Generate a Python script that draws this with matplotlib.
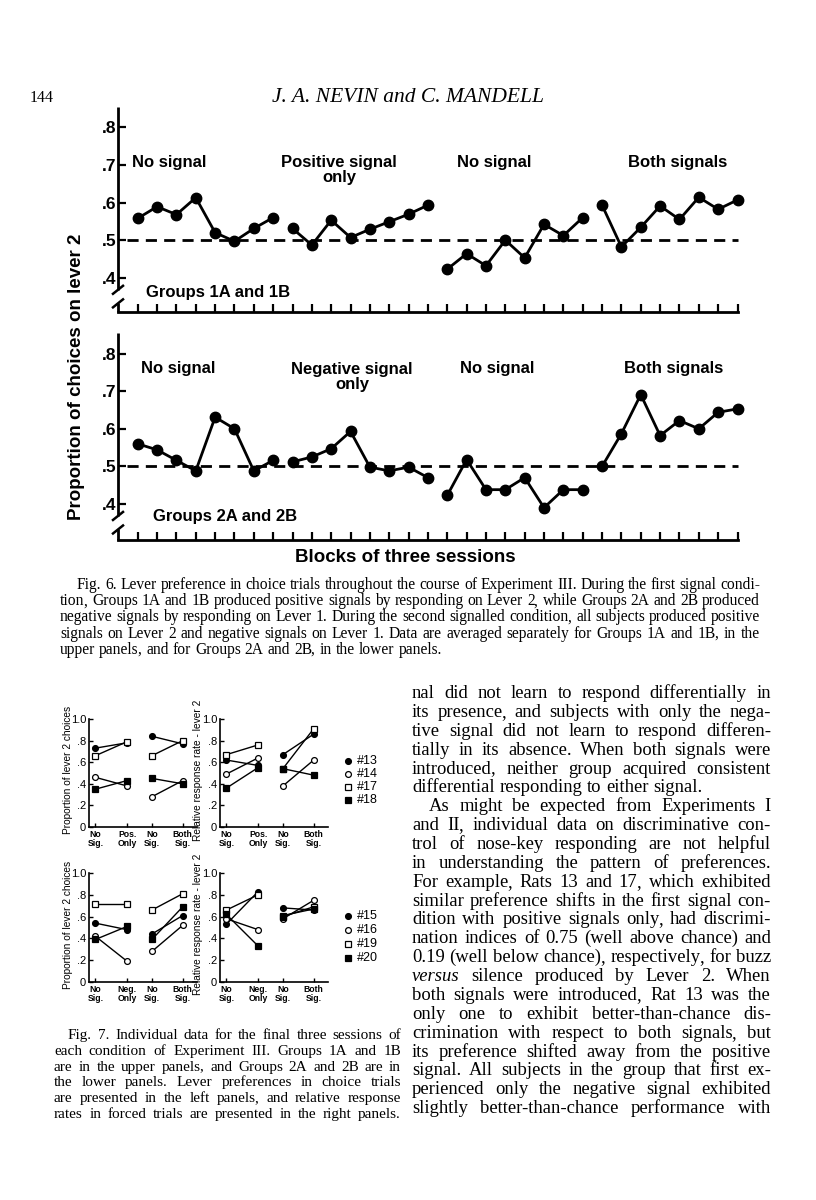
import matplotlib
matplotlib.use('Agg')
import matplotlib.pyplot as plt
import numpy as np
from matplotlib.font_manager import FontProperties

W, H = 816, 1200

# ---- Fig. 6: proportion of choices on lever 2, blocks of three sessions ----
g1_nosig_a = [.558, .589, .568, .613, .520, .497, .531, .560]
g1_pos     = [.531, .487, .553, .507, .529, .549, .569, .593]
g1_nosig_b = [.423, .464, .432, .500, .453, .542, .512, .560]
g1_both    = [.593, .482, .534, .591, .555, .614, .582, .607]

g2_nosig_a = [.560, .544, .516, .488, .631, .600, .488, .516]
g2_neg     = [.512, .525, .547, .593, .498, .488, .498, .470]
g2_nosig_b = [.423, .518, .438, .438, .470, .390, .438, .438]
g2_both    = [.500, .587, .691, .582, .622, .600, .644, .653]

g1_conditions = ['No signal', 'Positive signal\nonly', 'No signal', 'Both signals']
g2_conditions = ['No signal', 'Negative signal\nonly', 'No signal', 'Both signals']

# ---- Fig. 7: individual rats, final three sessions of each condition ----
up_ticks = ['No\nSig.', 'Pos.\nOnly', 'No\nSig.', 'Both\nSig.']
low_ticks = ['No\nSig.', 'Neg.\nOnly', 'No\nSig.', 'Both\nSig.']
up_rats = ['#13', '#14', '#17', '#18']
low_rats = ['#15', '#16', '#19', '#20']

up_choice = [[.73, .78, .84, .77],
             [.46, .38, .28, .43],
             [.66, .79, .66, .80],
             [.35, .43, .45, .40]]
up_rate = [[.62, .57, .67, .86],
           [.49, .64, .38, .62],
           [.67, .76, .54, .91],
           [.36, .55, .54, .48]]
low_choice = [[.54, .48, .44, .61],
              [.42, .19, .28, .52],
              [.72, .72, .66, .81],
              [.39, .51, .39, .69]]
low_rate = [[.53, .83, .68, .66],
            [.58, .48, .58, .75],
            [.66, .80, .60, .69],
            [.62, .33, .61, .67]]

cond_pos = [0, 1, 1.78, 2.75]   # spacing of the four conditions on the axis
rat_styles = [dict(marker='o', mfc='k'), dict(marker='o', mfc='w'),
              dict(marker='s', mfc='w'), dict(marker='s', mfc='k')]

# ---- page text ----
cap6 = ["Fig. 6. Lever preference in choice trials throughout the course of Experiment III. During the first signal condi-",
        "tion, Groups 1A and 1B produced positive signals by responding on Lever 2, while Groups 2A and 2B produced",
        "negative signals by responding on Lever 1. During the second signalled condition, all subjects produced positive",
        "signals on Lever 2 and negative signals on Lever 1. Data are averaged separately for Groups 1A and 1B, in the",
        "upper panels, and for Groups 2A and 2B, in the lower panels."]
cap7 = ["Fig. 7. Individual data for the final three sessions of",
        "each condition of Experiment III. Groups 1A and 1B",
        "are in the upper panels, and Groups 2A and 2B are in",
        "the lower panels. Lever preferences in choice trials",
        "are presented in the left panels, and relative response",
        "rates in forced trials are presented in the right panels."]
body = ["nal did not learn to respond differentially in",
        "its presence, and subjects with only the nega-",
        "tive signal did not learn to respond differen-",
        "tially in its absence. When both signals were",
        "introduced, neither group acquired consistent",
        "differential responding to either signal.",
        "As might be expected from Experiments I",
        "and II, individual data on discriminative con-",
        "trol of nose-key responding are not helpful",
        "in understanding the pattern of preferences.",
        "For example, Rats 13 and 17, which exhibited",
        "similar preference shifts in the first signal con-",
        "dition with positive signals only, had discrimi-",
        "nation indices of 0.75 (well above chance) and",
        "0.19 (well below chance), respectively, for buzz",
        "*versus* silence produced by Lever 2. When",
        "both signals were introduced, Rat 13 was the",
        "only one to exhibit better-than-chance dis-",
        "crimination with respect to both signals, but",
        "its preference shifted away from the positive",
        "signal. All subjects in the group that first ex-",
        "perienced only the negative signal exhibited",
        "slightly better-than-chance performance with"]

SANS = 'Liberation Sans'
SERIF = 'Liberation Serif'

fig = plt.figure(figsize=(W / 100, H / 100), dpi=100)
fig.patch.set_facecolor('white')

# overlay axes in page pixels, for text and hand-drawn bits
ov = fig.add_axes([0, 0, 1, 1])
ov.set_xlim(0, W)
ov.set_ylim(H, 0)
ov.axis('off')
ov.patch.set_visible(False)
ov.set_zorder(5)


def px_axes(x0, y0, x1, y1):
    return fig.add_axes([x0 / W, 1 - y1 / H, (x1 - x0) / W, (y1 - y0) / H])


def block_panel(box, ylim, segments, conditions, cond_xy, group, group_xy):
    x0, y0, x1, y1 = box
    ax = px_axes(x0, y0, x1, y1)
    ax.patch.set_visible(False)
    n = 0
    for seg in segments:
        xs = np.arange(n, n + len(seg))
        ax.plot(xs, seg, '-o', color='k', lw=2, ms=7.5, clip_on=False, zorder=3)
        n += len(seg)
    ax.plot([-0.55, n - 1], [.5, .5], color='k', lw=2, ls=(0, (4, 2.6)), clip_on=False)
    ax.set_xlim(-1.02, n - 1)
    ax.set_ylim(*ylim)
    ax.set_xticks(np.arange(n))
    ax.tick_params(axis='x', direction='in', length=6, width=1.6, labelbottom=False)
    ax.set_yticks([.4, .5, .6, .7, .8])
    ax.set_yticklabels(['.4', '.5', '.6', '.7', '.8'], fontsize=12.5,
                       fontweight='bold', family=SANS)
    ax.tick_params(axis='y', direction='in', length=6, width=1.6, pad=1)
    for s in ['top', 'right', 'left']:
        ax.spines[s].set_visible(False)
    ax.spines['bottom'].set_linewidth(2)

    # broken y axis, drawn in page pixels
    def vpix(v):
        return y1 - (v - ylim[0]) / (ylim[1] - ylim[0]) * (y1 - y0)
    ov.plot([x0, x0], [y0, vpix(.368)], color='k', lw=2, solid_capstyle='butt')
    ov.plot([x0, x0], [vpix(.332), y1], color='k', lw=2, solid_capstyle='butt')
    for v in (.368, .332):
        yp = vpix(v)
        ov.plot([x0 - 5, x0 + 5], [yp + 4, yp - 4], color='k', lw=1.8)

    for txt, (cx, cy) in zip(conditions, cond_xy):
        ov.text(cx, cy, txt, ha='center', va='center', fontsize=12,
                fontweight='bold', family=SANS, linespacing=1.05)
    ov.text(group_xy[0], group_xy[1], group, ha='left', va='center',
            fontsize=12, fontweight='bold', family=SANS)
    return ax


block_panel((118, 107, 737.5, 312), (.309, .854),
            [g1_nosig_a, g1_pos, g1_nosig_b, g1_both], g1_conditions,
            [(169, 163), (339, 170), (494, 163), (678, 163)],
            'Groups 1A and 1B', (146, 292))
block_panel((118, 333, 737.5, 540), (.304, .855),
            [g2_nosig_a, g2_neg, g2_nosig_b, g2_both], g2_conditions,
            [(178, 368), (352, 377), (497, 368), (674, 368)],
            'Groups 2A and 2B', (153, 517))

ov.text(77, 377, 'Proportion of choices on lever 2', rotation=90, ha='center',
        va='center', fontsize=13.5, fontweight='bold', family=SANS)
ov.text(405, 558, 'Blocks of three sessions', ha='center', va='center',
        fontsize=13.5, fontweight='bold', family=SANS)


def rat_panel(box, series, ticklabels, ylabel, ylab_x):
    x0, y0, x1, y1 = box
    ax = px_axes(x0, y0, x1, y1)
    ax.patch.set_visible(False)
    for vals, st in zip(series, rat_styles):
        for a, b in [(0, 2), (2, 4)]:
            ax.plot(cond_pos[a:b], vals[a:b], color='k', lw=1, ms=4.2,
                    mec='k', mew=0.9, clip_on=False, zorder=3, **st)
    ax.set_xlim(-0.2, 3.2)
    ax.set_ylim(0, 1.0)
    ax.set_yticks([0, .2, .4, .6, .8, 1.0])
    ax.set_yticklabels(['0', '.2', '.4', '.6', '.8', '1.0'], fontsize=8, family=SANS)
    ax.set_xticks(cond_pos)
    ax.set_xticklabels(ticklabels, fontsize=6.2, fontweight='bold', family=SANS,
                       linespacing=1.1)
    ax.tick_params(direction='in', length=3, width=1, pad=2)
    for s in ['top', 'right']:
        ax.spines[s].set_visible(False)
    for s in ['left', 'bottom']:
        ax.spines[s].set_linewidth(1.2)
    ov.text(ylab_x, (y0 + y1) / 2 - 3, ylabel, rotation=90, ha='center',
            va='center', fontsize=7.3, family=SANS)
    return ax


rat_panel((89, 719, 197, 827), up_choice, up_ticks, 'Proportion of lever 2 choices', 68)
rat_panel((220, 719, 328, 827), up_rate, up_ticks, 'Relative response rate - lever 2', 198)
rat_panel((89, 873, 197, 982), low_choice, low_ticks, 'Proportion of lever 2 choices', 68)
rat_panel((220, 873, 328, 982), low_rate, low_ticks, 'Relative response rate - lever 2', 198)

for names, ys in [(up_rats, [761, 774, 787, 800]), (low_rats, [916, 930, 944, 958])]:
    for name, y, st in zip(names, ys, rat_styles):
        ov.plot([348], [y], color='k', ms=4.2, mec='k', mew=0.9, ls='none', **st)
        ov.text(357, y, name, ha='left', va='center', fontsize=9, family=SANS)

# ---- header and text blocks ----
ov.text(30, 98, '144', ha='left', va='center', fontsize=11.5, family=SERIF)
ov.text(408, 98, 'J. A. NEVIN and C. MANDELL', ha='center', va='center',
        fontsize=15.5, family=SERIF, style='italic')

renderer = fig.canvas.get_renderer()


def text_w(s, size, style='normal'):
    prop = FontProperties(family=SERIF, style=style, size=size)
    return renderer.get_text_width_height_descent(s, prop, ismath=False)[0]


def set_line(line, x0, x1, y, size, justify=True, indent=0):
    words = line.split()
    styles = ['italic' if w.startswith('*') else 'normal' for w in words]
    words = [w.strip('*') for w in words]
    start = x0 + indent
    while True:
        space = text_w('n n', size) - text_w('nn', size)
        widths = [text_w(w, size, st) for w, st in zip(words, styles)]
        need = sum(widths) + 0.45 * space * (len(words) - 1)
        if not justify or need <= x1 - start or size < 6:
            break
        size -= 0.2
    if justify and len(words) > 1:
        gap = (x1 - start - sum(widths)) / (len(words) - 1)
    else:
        gap = space
    x = start
    base = y + 0.27 * size * 100 / 72
    for w, st, wd in zip(words, styles, widths):
        # a trailing comma gets its own text so the word keeps the baseline
        head, tail = (w[:-1], ',') if w.endswith(',') and len(w) > 1 else (w, '')
        ov.text(x, base, head, fontsize=size, family=SERIF, style=st,
                ha='left', va='baseline')
        if tail:
            ov.text(x + text_w(head, size, st) - 1.2, base, tail, fontsize=size,
                    family=SERIF, style=st, ha='left', va='baseline')
        x += wd + gap


for i, line in enumerate(cap6):
    set_line(line, 60, 760, 585 + i * 16.1, 11.2,
             justify=(i < len(cap6) - 1), indent=17 if i == 0 else 0)

for i, line in enumerate(cap7):
    set_line(line, 54, 401, 1035 + i * 15.7, 11.0, indent=14 if i == 0 else 0)

for i, line in enumerate(body):
    set_line(line, 412, 771, 693 + i * 18.87, 13.4,
             justify=(i != 5), indent=17 if i == 6 else 0)

fig.savefig('out.png', dpi=100, facecolor='white')
